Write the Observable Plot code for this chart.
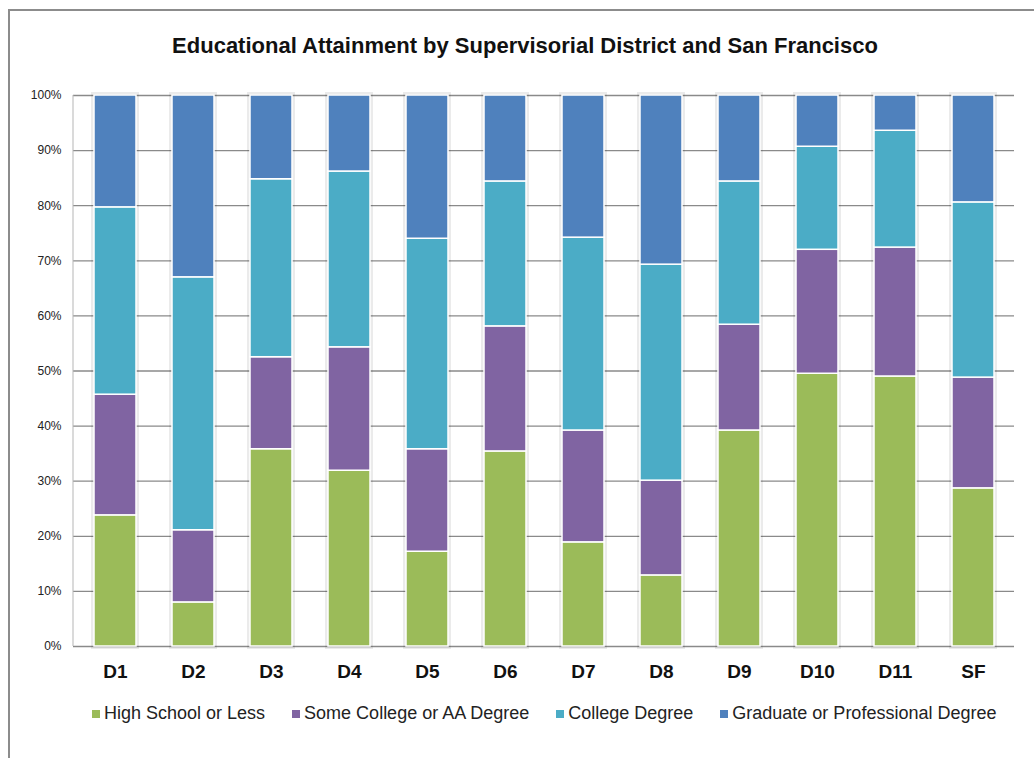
<!DOCTYPE html>
<html>
<head>
<meta charset="utf-8">
<script src="https://cdn.jsdelivr.net/npm/d3@7"></script>
<script src="https://cdn.jsdelivr.net/npm/@observablehq/plot@0.6"></script>
<style>
  html, body { margin: 0; padding: 0; background: #fff; }
  body { width: 1034px; height: 758px; position: relative; overflow: hidden;
         font-family: "Liberation Sans", Arial, sans-serif; }
  #frame { position: absolute; left: 8px; top: 9px; width: 1100px; height: 800px;
           border-left: 2px solid #8c8c8c; border-top: 2px solid #8c8c8c; }
  #title { position: absolute; left: 0; width: 1050px; top: 33px; text-align: center;
           font-size: 22px; font-weight: bold; color: #111; }
  #chart { position: absolute; left: 0; top: 0; }
  #legend { position: absolute; left: 92px; top: 703px; width: 1000px; display: flex;
            font-size: 18px; color: #222; white-space: nowrap; }
  #legend .item { display: flex; align-items: center; margin-right: 27px; flex: none; }
  #legend .sw { width: 8px; height: 8px; margin-right: 4px; }
</style>
</head>
<body>
<div id="frame"></div>
<div id="chart"></div>
<div id="title">Educational Attainment by Supervisorial District and San Francisco</div>
<div id="legend"></div>
<script>
const districts = ["D1","D2","D3","D4","D5","D6","D7","D8","D9","D10","D11","SF"];
const seriesNames = ["High School or Less","Some College or AA Degree","College Degree","Graduate or Professional Degree"];
const seriesColors = ["#9BBB59","#8064A2","#4BACC6","#4F81BD"];
const highSchool  = [23.8, 8.0, 35.8, 31.9, 17.2, 35.4, 18.9, 12.9, 39.2, 49.5, 49.0, 28.7];
const someCollege = [21.9, 13.1, 16.7, 22.4, 18.6, 22.7, 20.3, 17.2, 19.2, 22.5, 23.4, 20.1];
const collegeDeg  = [34.0, 45.9, 32.3, 31.9, 38.2, 26.3, 35.0, 39.2, 26.0, 18.7, 21.2, 31.8];
const graduate    = [20.3, 33.0, 15.2, 13.8, 26.0, 15.6, 25.8, 30.7, 15.6, 9.3, 6.4, 19.4];
const yTicks = [0,10,20,30,40,50,60,70,80,90,100];

const seriesValues = [highSchool, someCollege, collegeDeg, graduate];
const data = [];
seriesValues.forEach((vals, si) => {
  vals.forEach((v, i) => data.push({district: districts[i], series: seriesNames[si], value: v}));
});
const totals = districts.map(d => ({district: d, value: 100}));

const chart = Plot.plot({
  width: 1034,
  height: 700,
  marginTop: 95,
  marginBottom: 54,
  marginLeft: 73,
  marginRight: 20,
  style: {fontFamily: '"Liberation Sans", Arial, sans-serif', background: "transparent"},
  x: {domain: districts, paddingInner: 0.464, paddingOuter: 0.232, label: null},
  y: {domain: [0, 100], label: null},
  color: {domain: seriesNames, range: seriesColors},
  marks: [
    Plot.ruleY(yTicks, {stroke: "#8a8a8a", strokeWidth: 1.3}),
    Plot.barY(totals, {x: "district", y: "value", fill: "none", stroke: "#000", strokeOpacity: 0.08, strokeWidth: 6}),
    Plot.barY(data, {x: "district", y: "value", fill: "series", z: "series", stroke: "#fff", strokeWidth: 1.5}),
    Plot.axisY(yTicks, {tickSize: 0, tickPadding: 12, tickFormat: d => d + "%", fontSize: 12, fill: "#222"}),
    Plot.axisX({tickSize: 0, tickPadding: 18, fontSize: 19, fontWeight: "bold", fill: "#111"})
  ]
});
document.getElementById("chart").appendChild(chart);
// left axis line
d3.select(chart).append("line").attr("x1", 73).attr("x2", 73).attr("y1", 95).attr("y2", 646)
   .attr("stroke", "#b5b5b5").attr("stroke-width", 1);

const legend = d3.select("#legend");
seriesNames.forEach((n, i) => {
  const it = legend.append("div").attr("class", "item");
  it.append("div").attr("class", "sw").style("background", seriesColors[i]);
  it.append("span").text(n);
});
</script>
</body>
</html>
